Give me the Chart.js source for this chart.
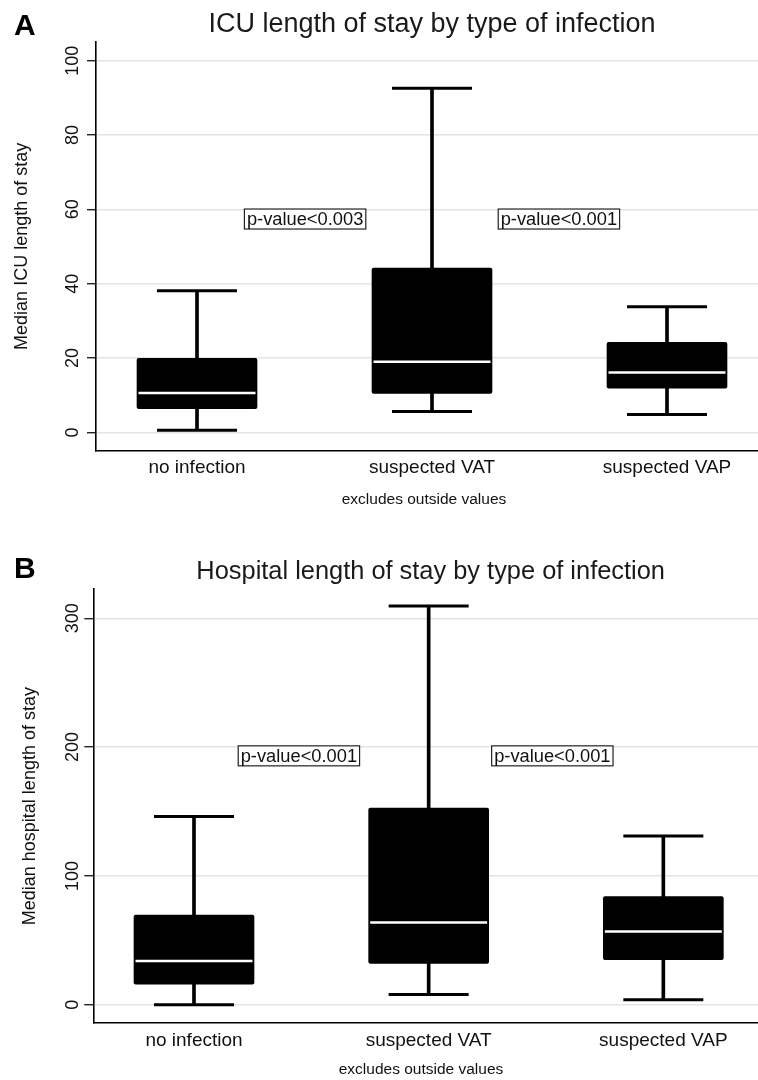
<!DOCTYPE html>
<html><head><meta charset="utf-8">
<script src="https://cdn.jsdelivr.net/npm/chart.js@4.4.1/dist/chart.umd.min.js"></script>
<style>
html,body{margin:0;padding:0;background:#fff;overflow:hidden;width:758px;height:1080px;}
#wa{position:absolute;left:0;top:0;width:768px;height:520px;}
#wb{position:absolute;left:0;top:530px;width:768px;height:550px;}
</style></head><body>
<div id="wa"><canvas id="ca"></canvas></div>
<div id="wb"><canvas id="cb"></canvas></div>
<script>
const categories = ['no infection', 'suspected VAT', 'suspected VAP'];

// Panel A: ICU length of stay (box plot statistics)
const icuMin    = [0.6, 5.6, 4.8];
const icuQ1     = [6.4, 10.5, 11.9];
const icuMedian = [10.6, 19.0, 16.1];
const icuQ3     = [19.9, 44.2, 24.2];
const icuMax    = [38.1, 92.6, 33.8];
const icuTicks  = [0, 20, 40, 60, 80, 100];
const icuPText  = ['p-value<0.003', 'p-value<0.001'];
const icuPX     = [1.46, 2.54];
const icuPY     = [57.4, 57.4];

// Panel B: Hospital length of stay
const hospMin    = [0, 8.0, 3.9];
const hospQ1     = [16.0, 32.1, 34.9];
const hospMedian = [33.9, 63.9, 56.9];
const hospQ3     = [69.6, 152.6, 84.0];
const hospMax    = [146.1, 309.5, 130.9];
const hospTicks  = [0, 100, 200, 300];
const hospPText  = ['p-value<0.001', 'p-value<0.001'];
const hospPX     = [1.447, 2.527];
const hospPY     = [193.2, 193.2];

const FAM = "'Liberation Sans', Arial, Helvetica, sans-serif";
const TXT = '#111';

const decor = {
  id: 'decor',
  afterDraw(chart, args, o) {
    const ctx = chart.ctx, xs = chart.scales.x, ys = chart.scales.y;
    ctx.save();
    // rotated y tick labels
    ctx.fillStyle = TXT;
    ctx.font = `18px ${FAM}`;
    ctx.textAlign = 'center';
    ctx.textBaseline = 'middle';
    ys.ticks.forEach(t => {
      const y = ys.getPixelForValue(t.value);
      ctx.save();
      ctx.translate(o.tickX, y);
      ctx.rotate(-Math.PI / 2);
      ctx.fillText(String(t.value), 0, 0);
      ctx.restore();
    });
    // p-value annotation boxes
    ctx.font = `18.3px ${FAM}`;
    o.pText.forEach((txt, i) => {
      const cx = xs.getPixelForValue(o.pX[i]);
      const cy = ys.getPixelForValue(o.pY[i]);
      const w = ctx.measureText(txt).width + 5;
      const h = 20;
      ctx.fillStyle = '#fff';
      ctx.fillRect(cx - w / 2, cy - h / 2, w, h);
      ctx.strokeStyle = '#222';
      ctx.lineWidth = 1.2;
      ctx.strokeRect(cx - w / 2, cy - h / 2, w, h);
      ctx.fillStyle = TXT;
      ctx.fillText(txt, cx, cy + 1);
    });
    // note
    ctx.font = `15.5px ${FAM}`;
    ctx.fillText('excludes outside values', o.noteX, o.noteY);
    // panel letter
    ctx.font = `bold 30px ${FAM}`;
    ctx.textAlign = 'left';
    ctx.fillStyle = '#000';
    ctx.fillText(o.letter, o.letterX, o.letterY);
    ctx.restore();
  }
};

function makeChart(id, st, cfg) {
  const pos = categories.map((_, i) => i + 1);
  return new Chart(document.getElementById(id), {
    type: 'bar',
    data: {
      datasets: [
        { type: 'bar', label: 'whisker', data: pos.map((x, i) => ({ x, y: [st.min[i], st.max[i]] })),
          backgroundColor: '#000', barThickness: 3, grouped: false, order: 3 },
        { type: 'bar', label: 'box', data: pos.map((x, i) => ({ x, y: [st.q1[i], st.q3[i]] })),
          backgroundColor: '#000', barThickness: 120, grouped: false, borderRadius: 2, borderSkipped: false, order: 2 },
        { type: 'line', label: 'caps', data: pos.map((x, i) => ({ x, y: st.max[i] })).concat(pos.map((x, i) => ({ x, y: st.min[i] }))),
          showLine: false, pointStyle: 'line', pointRadius: 40, pointBorderWidth: 3, pointBorderColor: '#000', order: 1 },
        { type: 'line', label: 'median', data: pos.map((x, i) => ({ x, y: st.med[i] })),
          showLine: false, pointStyle: 'line', pointRadius: 58.5, pointBorderWidth: 2.5, pointBorderColor: '#fff', order: 0 }
      ]
    },
    options: {
      responsive: true, maintainAspectRatio: false, animation: false, events: [],
      layout: { padding: 0, autoPadding: false },
      plugins: {
        legend: { display: false }, tooltip: { enabled: false },
        title: { display: true, fullSize: false, text: cfg.title, color: '#1a1a1a',
                 font: { size: cfg.titleSize, family: FAM, weight: 'normal' }, padding: cfg.titlePad },
        decor: cfg.decor
      },
      scales: {
        x: {
          type: 'linear', min: cfg.xMin, max: cfg.xMax, offset: false,
          grid: { display: false, drawTicks: false, offset: false },
          border: { display: true, color: '#000', width: 1.6 },
          afterBuildTicks: s => { s.ticks = pos.map(v => ({ value: v })); },
          ticks: { callback: v => categories[Math.round(v) - 1], font: { size: 19, family: FAM }, color: TXT,
                   padding: cfg.xTickPad, maxRotation: 0, autoSkip: false },
          afterFit: s => { s.height = cfg.xHeight; s.paddingLeft = 0; s.paddingRight = 0; }
        },
        y: {
          min: cfg.yMin, max: cfg.yMax,
          afterBuildTicks: s => { s.ticks = cfg.ticks.map(v => ({ value: v })); },
          ticks: { display: false },
          grid: { color: '#e4e4e4', lineWidth: 1.4, drawTicks: true, tickLength: 9, tickColor: '#222', tickWidth: 1.4 },
          border: { display: true, color: '#000', width: 1.6 },
          title: { display: true, text: cfg.yTitle, color: TXT, font: { size: 18, family: FAM }, padding: { top: cfg.yTitlePad, bottom: 0 } },
          afterFit: s => { s.width = cfg.yWidth; s.paddingTop = 0; s.paddingBottom = 0; }
        }
      }
    },
    plugins: [decor]
  });
}

makeChart('ca',
  { min: icuMin, q1: icuQ1, med: icuMedian, q3: icuQ3, max: icuMax },
  { title: 'ICU length of stay by type of infection', titleSize: 27, titlePad: { top: 8.5, bottom: 0.8 },
    xMin: 0.5702, xMax: 3.4298, xHeight: 69, xTickPad: 5.6,
    yMin: -5, yMax: 105.1, ticks: icuTicks, yTitle: 'Median ICU length of stay', yTitlePad: 11, yWidth: 96,
    decor: { tickX: 73, pText: icuPText, pX: icuPX, pY: icuPY, noteX: 424, noteY: 500, letter: 'A', letterX: 14, letterY: 27 } });

makeChart('cb',
  { min: hospMin, q1: hospQ1, med: hospMedian, q3: hospQ3, max: hospMax },
  { title: 'Hospital length of stay by type of infection', titleSize: 25.4, titlePad: { top: 26.5, bottom: 2.3 },
    xMin: 0.5709, xMax: 3.446, xHeight: 57, xTickPad: 6.5,
    yMin: -14.2, yMax: 322.5, ticks: hospTicks, yTitle: 'Median hospital length of stay', yTitlePad: 19, yWidth: 93.3,
    decor: { tickX: 73, pText: hospPText, pX: hospPX, pY: hospPY, noteX: 421, noteY: 540, letter: 'B', letterX: 14, letterY: 40 } });
</script>
</body></html>
